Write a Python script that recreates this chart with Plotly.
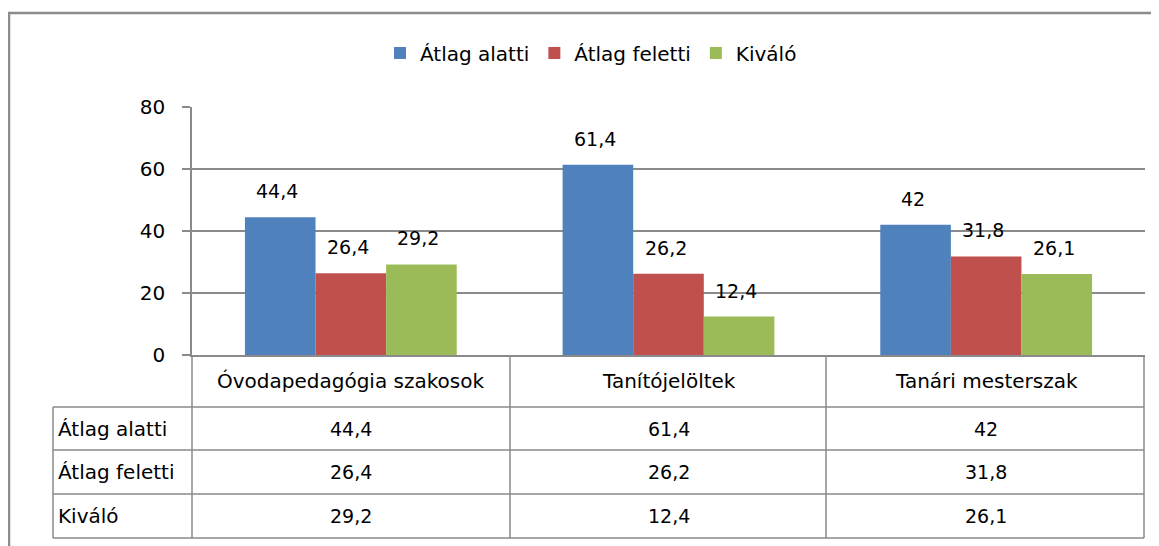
import plotly.graph_objects as go

categories = ["Óvodapedagógia szakosok", "Tanítójelöltek", "Tanári mesterszak"]
series_names = ["Átlag alatti", "Átlag feletti", "Kiváló"]
atlag_alatti = [44.4, 61.4, 42]
atlag_feletti = [26.4, 26.2, 31.8]
kivalo = [29.2, 12.4, 26.1]
colors = ["#4F81BD", "#C0504D", "#9BBB59"]
y_ticks = [0, 20, 40, 60, 80]

series_values = [atlag_alatti, atlag_feletti, kivalo]

# page body has an 8px default margin; work in window pixels and compensate
OFF = 8
WIN_W, WIN_H = 1159, 546
W, H = WIN_W - OFF, WIN_H - OFF
PL, PR, PT, PB = 192, 1145, 107, 355  # plot area in window pixels
L, R, T, B = PL - OFF, WIN_W - PR, PT - OFF, WIN_H - PB
PW = PR - PL
PH = PB - PT
FONT = "DejaVu Sans"
FS_TXT = 20
FS_NUM = 19
GRID = "#8a8a8a"


def px(p):
    return (p - PL) / PW


def py(p):
    return (PB - p) / PH


def fmt(v):
    return ("%g" % v).replace(".", ",")


fig = go.Figure()
for name, vals, col in zip(series_names, series_values, colors):
    fig.add_trace(go.Bar(x=categories, y=vals, name=name, marker=dict(color=col, line=dict(width=0))))

annotations = []
bar_w = PW / 3 * 2 / 9
for i, vals in enumerate(series_values):
    for c, v in zip(categories, vals):
        annotations.append(dict(x=c, y=v, xref="x", yref="y", text=fmt(v), showarrow=False,
                                xshift=(i - 1) * bar_w - 3, yshift=13, yanchor="bottom",
                                font=dict(family=FONT, size=FS_NUM, color="black")))

# data table
row_tops = [356, 407, 450, 494, 538]
col_edges = [192, 510, 826, 1144]
shapes = []
lc = dict(color=GRID, width=1.5)
for yy in row_tops[1:]:
    shapes.append(dict(type="line", xref="paper", yref="paper", x0=px(53), x1=px(1144), y0=py(yy), y1=py(yy), line=lc))
for xx in col_edges:
    shapes.append(dict(type="line", xref="paper", yref="paper", x0=px(xx), x1=px(xx), y0=py(356), y1=py(538), line=lc))
shapes.append(dict(type="line", xref="paper", yref="paper", x0=px(53), x1=px(53), y0=py(407), y1=py(538), line=lc))

for c in categories:
    annotations.append(dict(x=c, xref="x", yref="paper", y=py(381), text=c, showarrow=False,
                            yanchor="middle", font=dict(family=FONT, size=FS_TXT, color="black")))
for r, (name, vals) in enumerate(zip(series_names, series_values)):
    ymid = (row_tops[r + 1] + row_tops[r + 2]) / 2
    annotations.append(dict(x=px(56), xref="paper", yref="paper", y=py(ymid), text=name, showarrow=False,
                            xanchor="left", yanchor="middle", font=dict(family=FONT, size=FS_TXT, color="black")))
    for c, v in zip(categories, vals):
        annotations.append(dict(x=c, xref="x", yref="paper", y=py(ymid), text=fmt(v), showarrow=False,
                                yanchor="middle", font=dict(family=FONT, size=FS_NUM, color="black")))

# outer chart border
shapes.append(dict(type="rect", xref="paper", yref="paper", x0=px(9), x1=px(1180), y0=py(13), y1=py(580),
                   line=dict(color="#8c8c8c", width=2.5), fillcolor="rgba(0,0,0,0)"))

fig.update_layout(
    width=W, height=H,
    margin=dict(l=L, r=R, t=T, b=B, pad=0),
    paper_bgcolor="white", plot_bgcolor="white",
    barmode="group", bargap=1/3, bargroupgap=0,
    font=dict(family=FONT, size=FS_TXT, color="black"),
    showlegend=True,
    legend=dict(orientation="h", x=px(591), xanchor="center", y=py(53), yanchor="middle",
                font=dict(family=FONT, size=FS_TXT, color="black"), traceorder="normal",
                bgcolor="rgba(0,0,0,0)"),
    xaxis=dict(showticklabels=False, ticks="", showline=True, linecolor=GRID, linewidth=1.5,
               showgrid=False, zeroline=False, fixedrange=True),
    yaxis=dict(range=[0, 80], tickvals=y_ticks, ticks="outside", ticklen=8, tickcolor=GRID, tickwidth=1.5,
               showline=True, linecolor=GRID, linewidth=1.5, showgrid=True, gridcolor=GRID, gridwidth=1.5,
               zeroline=False, ticklabelstandoff=13, tickfont=dict(family=FONT, size=FS_TXT, color="black")),
    annotations=annotations,
    shapes=shapes,
)

fig.write_html("out.html")
